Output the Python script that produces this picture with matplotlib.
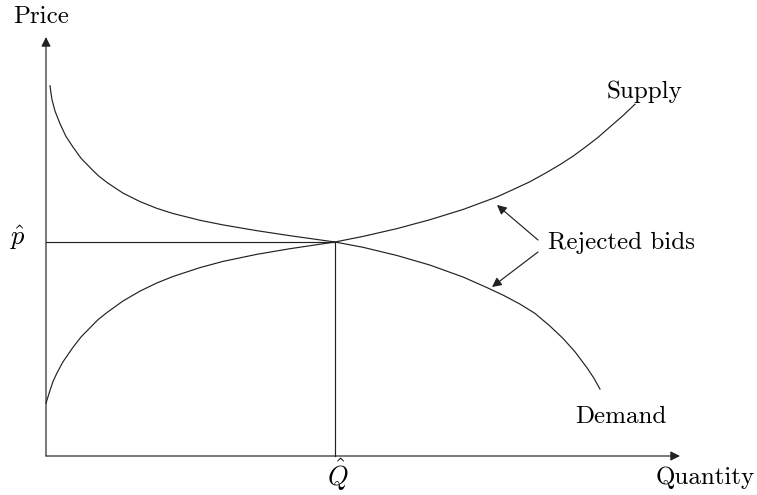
import matplotlib
matplotlib.use("Agg")
import matplotlib.pyplot as plt

plt.rcParams['font.family'] = ['cmr10', 'DejaVu Serif']
plt.rcParams['mathtext.fontset'] = 'cm'
plt.rcParams['axes.unicode_minus'] = False

# Supply curve (quantity, price)
supply_q = [0, 2, 4, 7, 11, 17, 27, 35, 44, 52, 61, 77, 94, 111, 127, 154, 177, 211, 244, 289,
            317, 351, 384, 417, 451, 467, 484, 499, 514, 527, 539, 552, 564, 577, 589]
supply_p = [52.8, 59.2, 65.6, 74.5, 83.1, 94.2, 108.7, 119.0, 128.2, 136.3, 143.5, 155.0,
            164.9, 173.1, 179.5, 188.4, 194.6, 201.7, 207.3, 214.0,
            219.6, 227.4, 236.3, 246.5, 259.1, 266.4, 274.3, 282.6, 291.4, 299.8, 308.6,
            318.6, 329.1, 340.4, 351.8]

# Demand curve (quantity, price)
demand_q = [4, 5, 6, 9, 14, 20, 27, 35, 44, 52, 61, 77, 94, 111, 127, 154, 177, 211, 244, 289,
            317, 351, 384, 417, 441, 458, 474, 489, 504, 517, 529, 541, 548, 554]
demand_p = [370.3, 363.0, 356.3, 345.0, 332.3, 319.5, 308.9, 297.8, 288.5, 280.6, 273.5,
            262.9, 254.4, 247.6, 242.5, 235.7, 231.1, 225.3, 220.3, 214.0,
            208.7, 200.5, 190.9, 179.0, 168.4, 160.4, 151.9, 142.6, 129.9, 117.6, 104.2,
            88.2, 77.7, 66.9]

eq_q = 289
eq_p = 214

x_axis_end = 634
y_axis_end = 419

fig = plt.figure(figsize=(7.57, 4.95), dpi=100)
ax = fig.add_axes([0, 0, 1, 1])
ax.set_xlim(-46, 711)
ax.set_ylim(-39, 456)
ax.axis('off')

lc = '#222222'
lw = 0.85

ax.plot(supply_q, supply_p, color=lc, lw=lw, solid_joinstyle='round')
ax.plot(demand_q, demand_p, color=lc, lw=lw, solid_joinstyle='round')
ax.plot([0, eq_q], [eq_p, eq_p], color=lc, lw=lw)
ax.plot([eq_q, eq_q], [0, eq_p], color=lc, lw=lw)

arr = dict(arrowstyle='-|>', color=lc, lw=lw, mutation_scale=14,
           shrinkA=0, shrinkB=0)
ax.annotate('', xy=(0, y_axis_end), xytext=(0, 0), arrowprops=arr)
ax.annotate('', xy=(x_axis_end, 0), xytext=(0, 0), arrowprops=arr)

fs = 18
ax.text(-5, 439, 'Price', fontsize=fs, ha='center', va='center')
ax.text(659, -22, 'Quantity', fontsize=fs, ha='center', va='center')
ax.text(575, 39, 'Demand', fontsize=fs, ha='center', va='center')
ax.text(598, 364, 'Supply', fontsize=fs, ha='center', va='center')
ax.text(-28, 218, r'$\hat{p}$', fontsize=fs + 1, ha='center', va='center')
ax.text(292, -19, r'$\hat{Q}$', fontsize=fs + 1, ha='center', va='center')
ax.text(502, 213, 'Rejected bids', fontsize=fs, ha='left', va='center')

ax.annotate('', xy=(451, 251), xytext=(492, 216), arrowprops=arr)
ax.annotate('', xy=(446, 169), xytext=(492, 204), arrowprops=arr)

fig.savefig('out.png', dpi=100)
